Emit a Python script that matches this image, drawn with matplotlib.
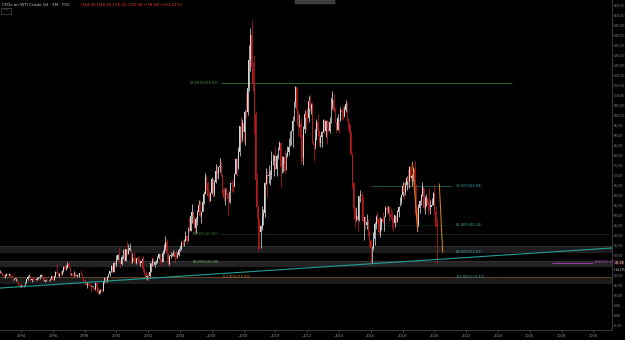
import matplotlib
matplotlib.use("Agg")
import matplotlib.pyplot as plt
from matplotlib.patches import Rectangle

# monthly candles, Sep 1992 .. Mar 2020
start_year, start_month = 1992, 9
closes = [
    21.9, 21.0, 20.3, 19.5,  # 1992
    20.3, 20.6, 20.4, 20.6, 19.9, 18.7, 17.8, 18.1, 18.5, 16.9, 15.4, 14.2,  # 1993
    15.2, 14.5, 14.7, 16.4, 18.1, 19.1, 19.7, 17.7, 18.4, 18.2, 18.1, 17.8,  # 1994
    18.4, 18.5, 19.2, 20.4, 18.9, 17.4, 17.6, 17.8, 17.5, 17.6, 18.2, 19.6,  # 1995
    17.7, 19.5, 21.5, 21.2, 19.8, 20.9, 20.5, 22.3, 24.4, 23.4, 23.8, 25.9,  # 1996
    24.2, 20.3, 20.8, 20.0, 20.8, 19.8, 20.1, 19.6, 21.2, 21.1, 19.2, 17.6,  # 1997
    17.2, 15.4, 15.6, 15.4, 15.2, 14.2, 14.2, 13.4, 16.1, 14.4, 11.2, 12.1,  # 1998
    12.8, 12.3, 16.8, 18.7, 16.8, 19.3, 20.5, 22.1, 24.5, 21.8, 26.1, 25.6,  # 1999
    27.6, 30.4, 26.9, 25.7, 29.0, 32.5, 27.4, 33.1, 30.8, 32.7, 33.8, 26.8,  # 2000
    28.7, 27.4, 26.3, 28.5, 28.4, 26.3, 26.3, 27.2, 23.4, 21.2, 19.4, 19.8,  # 2001
    19.5, 21.7, 26.3, 27.3, 25.3, 26.9, 27.0, 28.9, 30.5, 27.2, 26.9, 31.2,  # 2002
    33.5, 36.6, 31.0, 25.8, 29.6, 30.2, 30.5, 31.6, 29.2, 29.1, 30.4, 32.5,  # 2003
    33.1, 36.2, 35.8, 37.4, 39.9, 37.1, 43.8, 42.1, 49.6, 51.8, 49.1, 43.5,  # 2004
    48.2, 51.8, 55.4, 49.7, 51.9, 56.5, 60.6, 68.9, 66.2, 59.8, 57.3, 61.0,  # 2005
    67.9, 61.4, 66.6, 71.9, 71.3, 73.9, 74.4, 70.3, 62.9, 58.7, 63.1, 61.1,  # 2006
    58.1, 62.0, 65.9, 65.7, 64.0, 70.7, 78.2, 74.0, 81.7, 94.5, 88.7, 96.0,  # 2007
    91.8, 101.8, 101.6, 113.5, 127.4, 140.0, 124.1, 115.5, 100.6, 67.8, 54.4, 44.6,  # 2008
    41.7, 44.8, 49.7, 51.1, 66.3, 69.9, 69.5, 70.0, 70.6, 77.0, 77.3, 79.4,  # 2009
    72.9, 79.7, 83.8, 86.2, 74.0, 75.6, 78.9, 71.9, 80.0, 81.4, 84.1, 91.4,  # 2010
    92.2, 97.0, 106.7, 113.9, 102.7, 95.4, 95.7, 88.8, 79.2, 93.2, 100.4, 98.8,  # 2011
    98.5, 107.1, 103.0, 104.9, 86.5, 85.0, 88.1, 96.5, 92.2, 86.2, 88.9, 91.8,  # 2012
    97.5, 92.1, 97.2, 93.5, 92.0, 96.6, 105.0, 107.7, 102.3, 96.4, 92.7, 98.4,  # 2013
    97.5, 102.6, 101.6, 99.7, 102.7, 105.4, 98.2, 96.0, 91.2, 80.5, 66.2, 53.3,  # 2014
    48.2, 49.8, 47.6, 59.6, 60.3, 59.5, 47.1, 49.2, 45.1, 46.6, 41.7, 37.0,  # 2015
    33.6, 33.8, 38.3, 45.9, 49.1, 48.3, 41.6, 44.7, 48.2, 46.9, 49.4, 53.7,  # 2016
    52.8, 54.0, 50.6, 49.3, 48.3, 46.0, 50.2, 47.2, 51.7, 54.4, 57.4, 60.4,  # 2017
    64.7, 61.6, 64.9, 68.6, 67.0, 74.2, 68.8, 69.8, 73.3, 65.3, 50.9, 45.4,  # 2018
    53.8, 57.2, 60.1, 63.9, 53.5, 58.5, 58.6, 55.1, 54.1, 54.2, 55.2, 61.1,  # 2019
    51.6, 44.46, 26.38,  # 2020
]
highs = [
    22.5, 22.3, 21.3, 20.4,
    20.6, 21.0, 20.9, 21.0, 20.8, 20.0, 18.9, 18.4, 18.8, 18.6, 17.0, 15.5,
    15.9, 15.4, 15.0, 16.8, 18.3, 20.0, 20.7, 19.9, 18.6, 18.9, 18.9, 18.2,
    19.1, 19.0, 19.4, 20.8, 20.6, 19.0, 17.9, 18.3, 17.9, 17.9, 18.4, 19.8,
    19.9, 19.7, 22.3, 25.8, 21.7, 21.0, 22.4, 22.9, 24.8, 25.5, 25.1, 26.6,
    26.6, 24.4, 21.4, 21.1, 22.0, 21.5, 20.5, 20.4, 21.3, 22.8, 21.2, 19.0,
    17.9, 17.3, 16.8, 16.3, 15.7, 15.0, 14.8, 14.3, 16.6, 16.1, 14.4, 12.6,
    13.0, 13.1, 16.9, 19.4, 18.8, 19.5, 20.7, 22.3, 25.3, 24.8, 26.5, 27.2,
    30.0, 30.8, 34.1, 27.6, 30.2, 33.1, 32.0, 33.1, 37.2, 35.6, 36.0, 33.1,
    31.0, 31.6, 29.1, 28.6, 29.7, 29.7, 27.6, 28.5, 30.0, 23.5, 22.4, 20.3,
    21.7, 22.0, 26.4, 28.5, 29.4, 27.0, 27.9, 29.5, 31.4, 30.9, 28.4, 32.7,
    35.8, 39.9, 38.0, 31.0, 30.1, 31.5, 31.4, 32.5, 31.6, 32.8, 31.9, 33.7,
    35.2, 37.1, 38.4, 38.4, 42.3, 40.4, 44.3, 49.4, 50.5, 55.7, 50.9, 46.7,
    49.3, 52.5, 57.6, 57.7, 52.4, 60.9, 62.3, 70.9, 70.2, 66.8, 62.6, 61.5,
    69.2, 68.4, 67.4, 75.4, 74.6, 74.0, 78.4, 77.0, 70.6, 64.2, 63.5, 64.0,
    61.2, 62.3, 66.2, 68.1, 66.5, 70.9, 78.8, 78.4, 84.1, 94.7, 99.3, 98.2,
    100.1, 102.6, 111.8, 119.9, 135.1, 143.7, 147.3, 126.5, 130.0, 102.0, 71.0, 55.3,
    48.6, 45.3, 54.7, 53.1, 66.5, 73.4, 72.0, 75.0, 72.8, 82.0, 80.5, 80.0,
    83.9, 80.5, 83.9, 87.2, 86.8, 79.4, 79.4, 82.7, 80.9, 84.5, 88.6, 91.9,
    92.6, 99.6, 106.9, 114.8, 114.0, 102.4, 100.6, 98.7, 90.5, 94.7, 102.4, 101.8,
    103.7, 109.8, 110.6, 106.2, 106.6, 85.4, 92.9, 98.3, 100.4, 92.8, 90.2, 91.9,
    98.2, 98.2, 97.4, 97.8, 97.3, 99.1, 109.3, 112.2, 110.7, 104.1, 95.3, 100.8,
    98.3, 104.0, 102.9, 104.5, 104.5, 107.7, 106.5, 98.7, 95.5, 92.0, 81.2, 66.6,
    53.9, 54.2, 52.5, 59.9, 62.6, 61.9, 59.7, 49.4, 49.0, 50.9, 48.0, 42.6,
    38.4, 34.7, 41.9, 46.8, 50.2, 51.7, 49.0, 49.0, 48.5, 51.9, 49.9, 54.5,
    55.2, 54.9, 54.6, 53.8, 52.0, 49.0, 50.4, 50.2, 52.9, 54.8, 59.0, 60.5,
    66.7, 66.7, 66.6, 69.6, 72.9, 74.5, 75.3, 70.5, 73.9, 76.9, 65.4, 54.6,
    55.5, 57.8, 60.7, 66.6, 63.8, 59.9, 60.9, 57.5, 63.4, 57.5, 58.7, 61.8,
    65.6, 54.7, 48.66,
]
lows = [
    21.0, 20.6, 19.9, 19.0,
    18.8, 19.9, 20.0, 19.9, 19.6, 18.5, 17.3, 17.5, 17.2, 16.6, 15.2, 13.9,
    14.0, 14.3, 14.1, 14.6, 16.1, 17.5, 19.0, 17.4, 16.7, 17.9, 17.5, 17.0,
    17.8, 18.1, 18.2, 19.0, 18.6, 17.2, 16.8, 17.4, 17.3, 17.1, 17.4, 18.2,
    17.4, 17.6, 19.2, 20.7, 19.2, 19.4, 20.1, 20.3, 21.9, 22.8, 22.7, 23.7,
    23.9, 19.9, 20.2, 19.2, 19.7, 18.9, 19.2, 19.3, 19.4, 20.4, 19.0, 17.3,
    16.5, 15.3, 13.8, 14.9, 14.6, 11.5, 13.7, 12.8, 12.9, 14.0, 10.8, 10.7,
    11.3, 11.6, 12.3, 16.4, 16.4, 16.5, 19.0, 19.9, 21.7, 21.4, 21.8, 24.1,
    24.6, 27.6, 26.4, 23.7, 25.1, 28.3, 27.0, 27.1, 30.0, 30.5, 32.0, 25.9,
    26.3, 26.5, 25.8, 25.5, 27.4, 25.4, 24.9, 26.0, 21.6, 20.8, 17.5, 17.8,
    17.9, 19.4, 21.5, 24.9, 24.8, 24.0, 25.9, 26.3, 28.3, 26.6, 25.1, 26.7,
    30.7, 32.6, 26.9, 24.8, 25.0, 28.6, 29.7, 29.8, 26.0, 28.4, 28.5, 29.9,
    32.3, 32.5, 34.5, 34.6, 37.0, 35.5, 37.2, 41.9, 42.2, 46.2, 45.5, 40.3,
    41.3, 45.0, 51.4, 49.2, 46.2, 52.0, 55.7, 61.0, 62.5, 59.0, 56.1, 57.3,
    60.7, 59.3, 59.9, 66.3, 68.4, 68.3, 71.7, 69.8, 60.9, 57.2, 55.4, 60.2,
    49.9, 56.9, 56.0, 61.9, 61.9, 64.6, 70.8, 69.5, 73.1, 79.5, 85.9, 87.0,
    86.1, 85.0, 98.7, 100.1, 112.2, 122.3, 120.4, 112.0, 90.5, 62.3, 48.2, 32.4,
    33.2, 33.6, 42.6, 45.0, 49.3, 65.5, 59.0, 66.0, 65.1, 68.0, 75.2, 69.5,
    72.4, 69.5, 78.0, 82.4, 64.2, 70.9, 71.6, 70.8, 72.6, 79.3, 80.2, 84.4,
    85.1, 84.1, 96.9, 104.3, 94.6, 89.6, 94.0, 75.7, 77.1, 74.9, 91.3, 92.5,
    96.1, 96.6, 102.3, 100.7, 86.0, 77.3, 83.3, 87.6, 89.6, 84.6, 84.1, 84.1,
    91.8, 90.4, 89.3, 85.6, 91.4, 91.1, 95.9, 103.0, 101.8, 96.0, 91.8, 92.5,
    91.2, 96.9, 97.4, 97.9, 98.9, 101.6, 97.2, 92.5, 90.4, 80.0, 63.7, 52.7,
    44.2, 47.4, 42.0, 47.1, 56.5, 57.5, 46.7, 37.8, 43.2, 43.0, 39.7, 34.5,
    26.2, 26.1, 32.9, 35.2, 43.0, 46.0, 40.6, 39.2, 42.5, 46.2, 42.2, 49.9,
    50.7, 51.2, 47.1, 48.2, 43.8, 42.1, 44.4, 45.6, 46.5, 49.1, 54.9, 55.8,
    59.9, 58.1, 60.1, 62.8, 64.2, 63.6, 67.0, 64.4, 67.3, 65.0, 49.4, 42.4,
    44.4, 51.2, 55.2, 59.6, 52.9, 50.6, 54.7, 50.5, 52.8, 50.9, 55.0, 55.4,
    50.6, 44.0, 26.15,
]
first_open = 21.6

# drawings on the chart (price levels / anchor points)
green_fib = [("23.60%(115.87)", 115.87, "#43a047"), ("78.60%(40.80)", 40.80, "#2e7d32"),
             ("88.60%(26.38)", 26.90, "#66bb6a")]
teal_fib = [("23.60%(64.58)", 64.58), ("61.80%(45.24)", 45.24),
            ("88.60%(31.67)", 31.67), ("112.80%(19.42)", 19.42)]
zones = [(31.2, 34.7, "#1d1d1f"), (24.2, 27.2, "#232325"), (15.8, 19.3, "#1b1b1c")]
trend_x, trend_y = [1992.68, 2031.17], [13.7, 33.7]
swing1_x, swing1_y = [2018.62, 2018.95], [76.5, 41.8]
swing2_x, swing2_y = [2020.31, 2020.52], [65.6, 31.6]
magenta_level = 26.4
last_price = 26.38
year_ticks = list(range(1994, 2031, 2))
price_ticks = list(range(-5, 160, 5))

bg = "#000000"
txt = "#8a8d96"
up_col, down_col = "#d6d6d6", "#b71c1c"

fig = plt.figure(figsize=(6.25, 3.4), dpi=100, facecolor=bg)
ax = fig.add_axes([0, 10 / 340, 612 / 625, 330 / 340], facecolor=bg)
ax.set_xlim(1992.68, 2031.17)
ax.set_ylim(-7.24, 157.5)

# zones
for lo, hi, c in zones:
    ax.axhspan(lo, hi, color=c, lw=0, zorder=0)
ax.axhline(19.3, color="#6b4a26", lw=0.6, zorder=1)
ax.axhline(27.2, color="#3a3a3c", lw=0.5, zorder=1)
ax.axhline(34.7, color="#333336", lw=0.5, zorder=1)

# candles
t = [start_year + (start_month - 1 + i) / 12 for i in range(len(closes))]
opens = [first_open] + closes[:-1]
cols = [up_col if c >= o else down_col for o, c in zip(opens, closes)]
ax.vlines(t, lows, highs, colors=cols, lw=0.55, zorder=3)
ax.bar(t, [max(abs(c - o), 0.3) for o, c in zip(opens, closes)],
       bottom=[min(o, c) for o, c in zip(opens, closes)],
       width=0.055, color=cols, lw=0, zorder=4)

# green fib (2008)
for label, lvl, c in green_fib:
    ax.text(2006.45, lvl, label, color=c, fontsize=2.6, ha="right", va="center", zorder=5)
ax.hlines(115.87, 2006.55, 2024.9, color="#2e7d32", lw=0.6, zorder=2)
ax.hlines(40.80, 2006.45, 2031, color="#12300f", lw=0.6, zorder=2)
ax.text(2006.6, 19.3, "112.80%(10.99)", color="#c0803a", fontsize=2.6, ha="left",
        va="center", zorder=5)

# teal fib (2018)
ax.hlines(64.58, 2016.0, 2021.1, color="#1f6f68", lw=0.5, zorder=2)
ax.hlines(45.24, 2016.0, 2021.1, color="#0d2524", lw=0.5, zorder=2)
for label, lvl in teal_fib:
    ax.text(2021.35, lvl, label, color="#3aa39b", fontsize=2.6, ha="left", va="center", zorder=5)

# trendline + swing drawings
ax.plot(trend_x, trend_y, color="#22a096", lw=0.8, zorder=5)
ax.plot(swing1_x, swing1_y, color="#e08a1e", lw=0.7, zorder=5)
ax.plot(swing2_x, swing2_y, color="#e08a1e", lw=0.7, zorder=5)
ax.hlines(magenta_level, 2027.4, 2030.0, color="#b040c0", lw=0.6, zorder=5)
ax.text(2030.0, magenta_level + 0.3, "1.618(27.41)", color="#c040d0", fontsize=2.4,
        ha="left", va="center", zorder=5)

# axes styling
for s in ["top", "left"]:
    ax.spines[s].set_visible(False)
for s in ["bottom", "right"]:
    ax.spines[s].set_color("#3a3a3a")
    ax.spines[s].set_linewidth(0.7)
ax.set_xticks(year_ticks)
ax.set_xticklabels([str(y) for y in year_ticks])
ax.yaxis.tick_right()
ax.set_yticks(price_ticks)
# 25.00 is hidden behind the last-price tag
ax.set_yticklabels(["" if p == 25 else f"{p:.2f}" for p in price_ticks])
ax.tick_params(axis="x", colors=txt, labelsize=2.6, length=1.2, width=0.4, pad=1.5)
ax.tick_params(axis="y", colors=txt, labelsize=2.3, length=0.8, width=0.4, pad=0.4)

# last price tag + bar countdown on the scale
y_tag = (last_price + 7.24) / 164.74
ax.text(1.004, y_tag, f"{last_price:.2f}", transform=ax.transAxes, fontsize=2.4,
        color="#ffffff", va="center", ha="left",
        bbox=dict(boxstyle="square,pad=0.12", fc="#2a0d0d", ec="none"))
ax.text(1.003, y_tag - 0.022, "13d 17h", transform=ax.transAxes, fontsize=1.8,
        color="#e0e0e0", va="center", ha="left")

# header
fig.text(2 / 625, 1 - 5 / 340, "CFDs on WTI Crude Oil \u00b7 1M \u00b7 TVC", color="#c8cad0",
         fontsize=3.0, va="center", ha="left")
fig.text(81 / 625, 1 - 5 / 340, "O44.35 H48.66 L26.15 C26.38 \u221218.08 (\u221241.21%)",
         color="#e53935", fontsize=3.0, va="center", ha="left")
fig.patches.append(Rectangle((1 / 625, 1 - 14 / 340), 10 / 625, 6 / 340, transform=fig.transFigure,
                             fc="none", ec="#6a6a6a", lw=0.4))
fig.text(6 / 625, 1 - 11 / 340, "\u02c4 \u02c5", color="#c8cad0", fontsize=2.4, ha="center",
         va="center")
fig.patches.append(Rectangle((295 / 625, 1 - 4 / 340), 40 / 625, 4 / 340, transform=fig.transFigure,
                             fc="#3c3c3c", ec="#5a5a5a", lw=0.3))

fig.savefig("out.png", dpi=100, facecolor=bg)
